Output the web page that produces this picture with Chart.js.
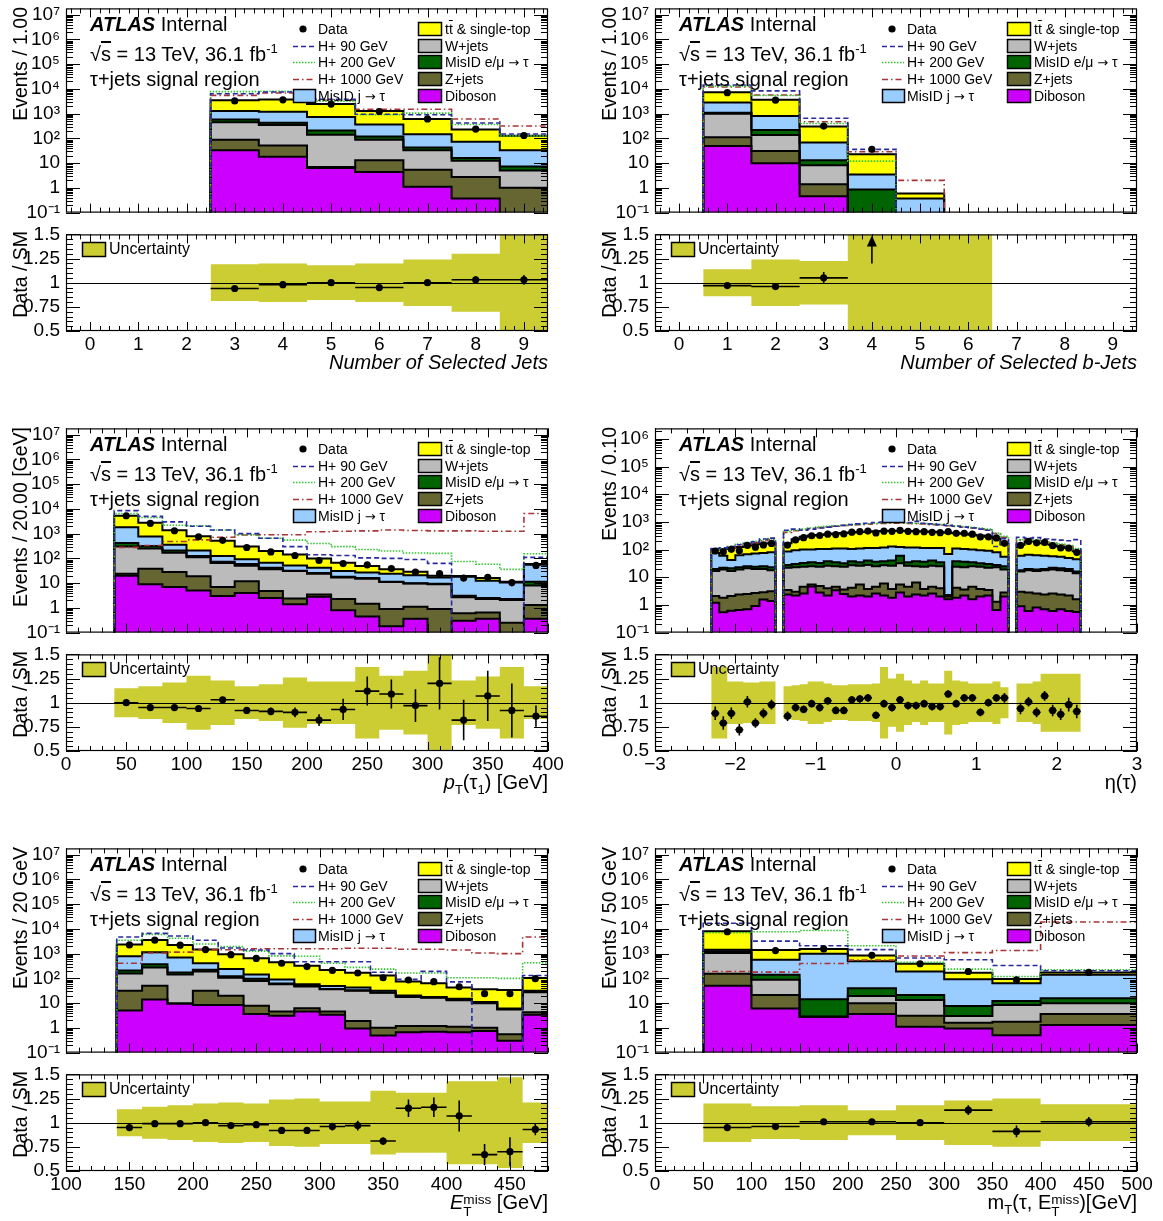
<!DOCTYPE html>
<html><head><meta charset="utf-8"><title>H+ tau+jets signal region distributions</title>
<script src="https://cdn.jsdelivr.net/npm/chart.js@4.4.1/dist/chart.umd.min.js"></script>
<style>
html,body{margin:0;padding:0;background:#fff;}
body{position:relative;width:1163px;height:1221px;overflow:hidden;font-family:'Liberation Sans',Arial,Helvetica,sans-serif;color:#000;}
canvas{position:absolute;}
.t{position:absolute;white-space:nowrap;line-height:1;}
.ytitle{position:absolute;writing-mode:vertical-rl;transform:rotate(180deg);white-space:nowrap;font-size:19.5px;line-height:20px;}
.xtitle{position:absolute;white-space:nowrap;font-size:20px;line-height:20px;text-align:right;}
.leg{position:absolute;white-space:nowrap;font-size:14px;line-height:14px;}
.arr{font-family:'DejaVu Sans',sans-serif;font-size:13px;}
.ss{display:inline-block;vertical-align:-0.5em;line-height:0.85;font-size:0.68em;text-align:left;}
.ss span{display:block;}
svg{position:absolute;overflow:visible;}
</style></head><body>
<script>
// ---------------- DATA ----------------
const PROCESSES = ['Diboson','Z+jets','W+jets','MisID e/\u03bc \u2192 \u03c4','MisID j \u2192 \u03c4','tt\u0304 & single-top'];
const SIGNALS = ['H+ 90 GeV','H+ 200 GeV','H+ 1000 GeV'];

// Number of selected jets
const njEdges = [2.5,3.5,4.5,5.5,6.5,7.5,8.5,9.5];
const njTicks = [0,1,2,3,4,5,6,7,8,9];
const njDiboson = [33,18,6.3,4.4,1.1,0.37,0];
const njZjets = [56,34,0.7,8.6,4.3,2.4,1.0];
const njWjets = [361,293,133,76,28,9.7,4.0];
const njMisIDem = [125,80,70,31,9,3.5,2.3];
const njMisIDj = [715,775,520,246,106,58,26];
const njTtbar = [2180,2500,1720,924,462,156,94];
const njData = [3260,3630,2450,1225,610,237,131];
const njH90 = [6400,7500,3800,950,900,420,150];
const njH200 = [7800,8100,3200,900,1050,365,127];
const njH1000 = [5500,6800,3500,1500,1500,610,315];
const njRatio = [0.94,0.98,1.00,0.95,1.00,1.03,1.03];
const njRatioErr = [0.01,0.01,0.01,0.015,0.02,0.04,0.05];
const njBand = [0.19,0.20,0.18,0.20,0.24,0.30,0.60];

// Number of selected b-jets
const nbEdges = [0.5,1.5,2.5,3.5,4.5,5.5,6.5];
const nbTicks = [0,1,2,3,4,5,6,7,8,9];
const nbDiboson = [49,10,0.46,0,0,0];
const nbZjets = [61,21,0.94,0,0,0];
const nbWjets = [870,106,6.9,0,0,0];
const nbMisIDem = [120,80,4.7,0.85,0,0];
const nbMisIDj = [1700,583,56,2.65,0.37,0];
const nbTtbar = [4500,2850,231,19.5,0.22,0];
const nbData = [7080,3500,315,36,null,null];
const nbH90 = [14500,8300,650,36,0,0];
const nbH200 = [13000,5400,400,12,0,0];
const nbH1000 = [12000,5700,470,29,2.0,0];
const nbRatio = [0.97,0.96,1.05,1.56,null,null];
const nbRatioErr = [0.02,0.015,0.06,0.36,null,null];
const nbBand = [0.14,0.24,0.225,0.60,0.60,0.60];

// pT(tau1)
const ptEdges = [40,60,80,100,120,140,160,180,200,220,240,260,280,300,320,340,360,380,400];
const ptTicks = [0,50,100,150,200,250,300,350,400];
const ptDiboson = [20,9,7,5,3,4,2.5,1.4,2.8,0.8,0.45,0.18,0.36,0,0.3,0.36,0,0.36];
const ptZjets = [4,29,21,14,4,8,2.3,1.0,0.7,1.5,1.0,0.72,0.74,0.9,0.3,0.29,0.25,0.94];
const ptWjets = [276,212,142,91,58,38,32,28.6,20.5,14.7,13.5,10.1,8.6,8.1,2.1,1.65,1.85,6.7];
const ptMisIDem = [120,70,40,15,8,10,5,1,1.5,1,1,0.5,0.3,0.5,0.4,0.2,0.2,3.5];
const ptMisIDj = [1380,440,150,85,52,32,25,20,16.5,13,11,12.5,11,7.5,14.9,10,8.2,43.5];
const ptTtbar = [3500,1990,1020,580,395,208,133,93,58,36,22,12,8,3,1.5,3.5,1,5];
const ptData = [5300,2610,1310,743,536,276,182,131,82,62,55,39,28,24,16,17,10.6,52];
const ptH90 = [8500,5000,3000,2000,1400,1000,650,300,140,130,105,100,90,63,0,0,0,110];
const ptH200 = [6500,4500,2200,2100,1400,900,650,550,400,300,230,200,165,160,75,58,36,155];
const ptH1000 = [280,330,480,560,720,880,900,900,1200,1250,1300,1400,1350,1300,1300,1250,1250,6500];
const ptRatio = [1.00,0.95,0.95,0.94,1.03,0.92,0.91,0.90,0.82,0.93,1.12,1.09,0.97,1.20,0.82,1.07,0.92,0.86];
const ptRatioErr = [0.01,0.01,0.015,0.02,0.03,0.03,0.04,0.05,0.06,0.11,0.15,0.15,0.17,0.27,0.21,0.26,0.28,0.11];
const ptBand = [0.15,0.17,0.21,0.28,0.23,0.17,0.19,0.26,0.22,0.22,0.37,0.28,0.33,0.50,0.23,0.27,0.37,0.17];

// eta(tau)
const etaEdges = [-2.3,-2.2,-2.1,-2.0,-1.9,-1.8,-1.7,-1.6,-1.5,-1.4,-1.3,-1.2,-1.1,-1.0,-0.9,-0.8,-0.7,-0.6,-0.5,-0.4,-0.3,-0.2,-0.1,0,0.1,0.2,0.3,0.4,0.5,0.6,0.7,0.8,0.9,1.0,1.1,1.2,1.3,1.4,1.5,1.6,1.7,1.8,1.9,2.0,2.1,2.2,2.3];
const etaTicks = [-3,-2,-1,0,1,2,3];
const etaDiboson = [1.2,0.54,0.62,0.65,0.7,0.92,1.58,1.38, 0, 2.4,2.2,2.6,4.6,2.8,2.2,3.4,2.5,2.0,2.2,2.0,2.6,2.2,1.8,2.8,2.0,2.4,2.2,2.6,2.0,1.6,1.8,2.2,1.6,2.0,2.2,0.65,2.0, 0, 0.9,0.6,0.8,0.7,0.6,0.7,0.6,0.55];
const etaZjets = [0.9,1.26,1.48,1.75,1.8,1.78,1.32,1.72, 0, 1.1,0.8,1.9,0.9,2.0,1.8,1.1,1.1,2.2,3.3,1.8,1.9,3.8,2.0,2.7,2.5,4.1,1.6,1.9,2.0,0.4,2.4,1.4,2.9,1.8,1.3,0.65,0.8, 0, 2.1,2.2,1.8,1.7,2.0,1.7,1.6,1.05];
const etaWjets = [14.9,17.2,14.9,16.6,18.5,17.3,17.1,14.9, 0, 18.5,20,19.5,19.5,19.2,22,20.5,20.4,22.8,20.5,24.2,20.5,21,22.2,26.5,21.5,18.5,20.2,21.5,21,0.15,19.8,19.4,20.5,20.2,18.5,21.7,16.2, 0, 13,15.2,14.4,15.6,16.4,15.6,14.8,12.4];
const etaMisIDem = [3,3,4,4,4,4,5,5, 0, 6,7,9,10,9,12,10,8,11,9,12,11,11,14,28,9,13,12,14,10,0.15,14,13,10,8,8,5,6, 0, 2,2,2,2,3,3,3,2];
const etaMisIDj = [55,38,21,39,43,48,51,57, 0, 57,65,67,65,72,67,75,78,67,75,75,79,82,90,65,85,82,79,75,80,67.7,72,69,65,63,60,52,30, 0, 42,45,43,40,36,34,30,29];
const etaTtbar = [25,45,73,63,72,83,89,90, 0, 85,140,190,220,235,250,270,290,310,320,330,345,350,350,355,350,340,335,325,310,340,280,265,245,225,200,170,105, 0, 90,130,133,110,92,75,65,43];
const etaData = [89,83,102,90,141,122,147,167, null, 146,223,270,317,323,362,350,368,427,447,467,400,465,456,494,456,446,446,422,408,447,386,389,362,288,290,263,168, null, 141,197,176,182,138,114,113,80];
const etaH90 = [110,115,130,150,170,190,240,260, 0, 500,550,500,550,600,650,700,750,800,850,900,950,1000,1050,1000,950,1050,900,850,800,750,700,650,600,550,500,130,250, 0, 280,260,270,240,230,220,210,230];
const etaH200 = [100,110,130,160,180,200,230,250, 0, 450,500,550,600,650,700,720,760,800,830,860,900,920,950,950,920,900,880,850,800,760,720,680,640,600,550,400,300, 0, 230,240,220,200,180,160,140,110];
const etaH1000 = [95,100,115,140,160,180,210,230, 0, 420,480,530,580,620,660,700,740,770,800,830,860,880,900,900,880,860,840,800,770,730,690,650,610,570,520,380,280, 0, 220,230,210,190,170,150,130,100];
const etaRatio = [0.89,0.79,0.89,0.72,1.01,0.79,0.89,0.98, null, 0.86,0.95,0.93,0.99,0.95,1.02,0.92,0.92,1.03,1.04,1.05,0.87,0.99,0.95,1.03,0.97,0.97,0.99,0.96,0.96,1.09,0.99,1.05,1.05,0.90,1.00,1.05,1.05, null, 0.94,1.01,0.90,1.07,0.92,0.88,0.98,0.91];
const etaRatioErr = [0.07,0.07,0.06,0.06,0.06,0.05,0.05,0.05, null, 0.05,0.04,0.04,0.04,0.04,0.04,0.04,0.04,0.04,0.04,0.04,0.04,0.04,0.04,0.04,0.04,0.04,0.04,0.04,0.04,0.04,0.04,0.04,0.04,0.04,0.04,0.04,0.05, null, 0.06,0.05,0.05,0.05,0.06,0.06,0.07,0.07];
const etaBand = [0.37,0.37,0.22,0.22,0.21,0.21,0.22,0.22, 0, 0.17,0.18,0.19,0.22,0.22,0.20,0.18,0.18,0.19,0.19,0.19,0.20,0.37,0.25,0.30,0.23,0.20,0.23,0.20,0.20,0.33,0.23,0.22,0.20,0.20,0.20,0.22,0.16, 0, 0.20,0.20,0.22,0.30,0.30,0.30,0.30,0.30];

// E_T^miss
const metEdges = [140,160,180,200,220,240,260,280,300,320,340,360,380,400,420,440,460,480];
const metTicks = [100,150,200,250,300,350,400,450];
const metDiboson = [5.0,14,9.7,8.4,8.4,3.6,3.1,4.6,3.4,0.94,0.49,0.66,0.7,0.66,0.75,0.3,3.4];
const metZjets = [27,36,0,23.6,11.6,4.3,1.5,1.6,1.2,0.96,0.51,0.54,0.5,0.44,0.25,0.25,0.9];
const metWjets = [125,225,133,158,86,71,53,41,32,30,25,16.4,15.4,11.9,9,4.95,23];
const metMisIDem = [53,95,32,35,17,18,4,3,1,1,1,1.1,0.6,1.3,0.5,0.3,2.5];
const metMisIDj = [580,780,525,185,114,46,29,8,12,10,5,1.8,0.4,0.7,0.5,0.2,2];
const metTtbar = [1580,2390,1520,1050,703,507,354,268,169,127,99,54.5,46.4,28,25,28,72];
const metData = [2250,3500,2200,1460,910,640,410,300,210,165,106,86,74,46,24,24,97];
const metH90 = [4700,6600,5200,3500,1700,1400,1000,470,470,470,177,91,192,72,0,0,130];
const metH200 = [3500,6000,4200,2450,1930,1260,810,790,410,280,237,165,165,106,106,100,430];
const metH1000 = [410,1060,1150,1460,1430,1580,1580,1580,1580,1650,1650,1500,1500,1400,1060,1000,4700];
const metRatio = [0.95,0.99,0.99,1.00,0.97,0.98,0.92,0.92,0.96,0.97,0.81,1.15,1.16,1.07,0.67,0.70,0.93];
const metRatioErr = [0.01,0.01,0.01,0.01,0.015,0.02,0.025,0.03,0.04,0.05,0.04,0.09,0.10,0.16,0.11,0.15,0.06];
const metBand = [0.14,0.165,0.18,0.20,0.21,0.20,0.24,0.25,0.22,0.22,0.33,0.31,0.31,0.43,0.43,0.47,0.21];

// mT(tau, ETmiss)
const mtEdges = [50,100,150,200,250,300,350,400,500];
const mtTicks = [0,50,100,150,200,250,300,350,400,450,500];
const mtDiboson = [50,6.1,2.8,3.6,1.1,0.94,0.5,1.3];
const mtZjets = [105,15.4,0,6.2,2.0,0.66,1.25,2.3];
const mtWjets = [915,66.5,0,9.7,10.3,1.4,6.65,6.2];
const mtMisIDem = [180,52,11.5,20.5,8.1,4.6,3.8,5.9];
const mtMisIDj = [200,430,986,450,168,85,52,124];
const mtTtbar = [6650,820,530,360,200,75,31,33];
const mtData = [7700,1330,1550,860,390,190,87,175];
const mtH90 = [17000,3200,2100,1450,670,570,330,205];
const mtH200 = [7000,7700,8600,2100,445,237,120,225];
const mtH1000 = [190,180,400,550,800,1100,1350,19000];
const mtRatio = [0.95,0.96,1.01,1.01,1.00,1.13,0.91,1.01];
const mtRatioErr = [0.01,0.02,0.02,0.02,0.03,0.05,0.06,0.05];
const mtBand = [0.20,0.17,0.18,0.13,0.18,0.23,0.25,0.19];

// ---------------- STYLE ----------------
const FILLS = ['#cc00ff','#666633','#bbbbbb','#006400','#99ccff','#ffff00'];
const SIGSTYLE = [
  {color:'#2a2aa0', dash:[5,3]},
  {color:'#2fc62f', dash:[1.5,1.5]},
  {color:'#aa3333', dash:[6,3,1.5,3]}
];
const BANDCOLOR = '#cccc33';
const LOG_FLOOR = 1e-5; // empty bins are drawn below the visible axis range

const PANELS = [
  {col:0,row:0, edges:njEdges, comps:[njDiboson,njZjets,njWjets,njMisIDem,njMisIDj,njTtbar], sig:[njH90,njH200,njH1000], data:njData, ratio:njRatio, rerr:njRatioErr, band:njBand, xmin:-0.5, xmax:9.5, xticks:njTicks, xminor:0.2, ymax:1.8e7, ytitle:'Events / 1.00', xtitle:'<i>Number of Selected Jets</i>'},
  {col:1,row:0, edges:nbEdges, comps:[nbDiboson,nbZjets,nbWjets,nbMisIDem,nbMisIDj,nbTtbar], sig:[nbH90,nbH200,nbH1000], data:nbData, ratio:nbRatio, rerr:nbRatioErr, band:nbBand, xmin:-0.5, xmax:9.5, xticks:nbTicks, xminor:0.2, ymax:1.8e7, ytitle:'Events / 1.00', xtitle:'<i>Number of Selected b-Jets</i>'},
  {col:0,row:1, edges:ptEdges, comps:[ptDiboson,ptZjets,ptWjets,ptMisIDem,ptMisIDj,ptTtbar], sig:[ptH90,ptH200,ptH1000], data:ptData, ratio:ptRatio, rerr:ptRatioErr, band:ptBand, xmin:0, xmax:400, xticks:ptTicks, xminor:10, ymax:1.8e7, ytitle:'Events / 20.00 [GeV]', xtitle:'<i>p</i><sub style="font-size:13px">T</sub>(\u03c4<sub style="font-size:13px">1</sub>) [GeV]'},
  {col:1,row:1, edges:etaEdges, comps:[etaDiboson,etaZjets,etaWjets,etaMisIDem,etaMisIDj,etaTtbar], sig:[etaH90,etaH200,etaH1000], data:etaData, ratio:etaRatio, rerr:etaRatioErr, band:etaBand, xmin:-3, xmax:3, xticks:etaTicks, xminor:0.2, ymax:2.4e6, ytitle:'Events / 0.10', xtitle:'\u03b7(\u03c4)'},
  {col:0,row:2, edges:metEdges, comps:[metDiboson,metZjets,metWjets,metMisIDem,metMisIDj,metTtbar], sig:[metH90,metH200,metH1000], data:metData, ratio:metRatio, rerr:metRatioErr, band:metBand, xmin:100, xmax:480, xticks:metTicks, xminor:10, ymax:1.8e7, ytitle:'Events / 20 GeV', xtitle:'<i>E</i><span class="ss"><span>miss</span><span>T</span></span> [GeV]'},
  {col:1,row:2, edges:mtEdges, comps:[mtDiboson,mtZjets,mtWjets,mtMisIDem,mtMisIDj,mtTtbar], sig:[mtH90,mtH200,mtH1000], data:mtData, ratio:mtRatio, rerr:mtRatioErr, band:mtBand, xmin:0, xmax:500, xticks:mtTicks, xminor:10, ymax:1.8e7, ytitle:'Events / 50 GeV', xtitle:'m<sub style="font-size:13px">T</sub>(\u03c4, E<span class="ss"><span>miss</span><span>T</span></span>)[GeV]'}
];

// ---------------- HELPERS ----------------
Chart.defaults.font.family = "'Liberation Sans', Arial, Helvetica, sans-serif";
Chart.defaults.color = '#000';

const COLX = [0, 589];
const ROWY = [0, 420, 840];
const YAXW = 66, PADR = 20, FRAMEW = 482;
const CW = YAXW + FRAMEW + PADR;

function histPoints(edges, vals, floor){
  const n = vals.length;
  const f = v => (floor && !(v > 0)) ? floor : v;
  const pts = [{x:edges[0], y:f(0)}];
  for (let i=0;i<n;i++) pts.push({x:edges[i], y:f(vals[i])});
  pts.push({x:edges[n], y:f(vals[n-1])});
  pts.push({x:edges[n], y:f(0)});
  return pts;
}
function bandPoints(edges, vals){
  const n = vals.length;
  const pts = [];
  for (let i=0;i<n;i++) pts.push({x:edges[i], y:vals[i]});
  pts.push({x:edges[n], y:vals[n-1]});
  return pts;
}
function cumulative(comps){
  const out = []; let run = comps[0].map(()=>0);
  comps.forEach(c=>{ run = run.map((v,i)=>v + (c[i]||0)); out.push(run.slice()); });
  return out;
}
function centeredPoints(edges, vals, errs){
  const out = [];
  vals.forEach((v,i)=>{ if (v==null) return; out.push({x:(edges[i]+edges[i+1])/2, y:v, e:errs?errs[i]:null, h:(edges[i+1]-edges[i])/2}); });
  return out;
}
function linTicks(min, max, step){
  const out=[]; const n0=Math.ceil(min/step-1e-9), n1=Math.floor(max/step+1e-9);
  for (let n=n0;n<=n1;n++) out.push(+(n*step).toFixed(6));
  return out;
}
const SUP = {'-':'\u207b','0':'\u2070','1':'\u00b9','2':'\u00b2','3':'\u00b3','4':'\u2074','5':'\u2075','6':'\u2076','7':'\u2077','8':'\u2078','9':'\u2079'};
function logLabel(v){
  const e = Math.round(Math.log10(v));
  if (e===0) return '1'; if (e===1) return '10';
  return '10' + String(e).split('').map(c=>SUP[c]).join('');
}
function numLabel(v){ return v<0 ? '\u2212'+Math.abs(v) : String(v); }

function framePlugin(cfg){
  return { id:'rootFrame', afterDraw(chart){
    const {ctx, chartArea:a} = chart; const xs = chart.scales.x, ys = chart.scales.y;
    ctx.save(); ctx.strokeStyle='#000'; ctx.lineWidth=1; ctx.beginPath();
    const vt=(v,len)=>{ const X=Math.round(xs.getPixelForValue(v))+0.5; ctx.moveTo(X,a.bottom); ctx.lineTo(X,a.bottom-len); ctx.moveTo(X,a.top); ctx.lineTo(X,a.top+len); };
    const ht=(v,len)=>{ const Y=Math.round(ys.getPixelForValue(v))+0.5; ctx.moveTo(a.left,Y); ctx.lineTo(a.left+len,Y); ctx.moveTo(a.right,Y); ctx.lineTo(a.right-len,Y); };
    cfg.xMajor.forEach(v=>vt(v,cfg.xLen[0])); cfg.xMinor.forEach(v=>vt(v,cfg.xLen[1]));
    cfg.yMajor.forEach(v=>ht(v,cfg.yLen[0])); cfg.yMinor.forEach(v=>ht(v,cfg.yLen[1]));
    ctx.stroke();
    ctx.lineWidth=1.2; ctx.strokeRect(a.left+0.5, a.top+0.5, a.right-a.left-1, a.bottom-a.top-1);
    ctx.restore();
  }};
}
function errPlugin(unity){
  return { id:'errbars', afterDatasetsDraw(chart){
    const {ctx, chartArea:a} = chart; const xs = chart.scales.x, ys = chart.scales.y;
    ctx.save(); ctx.beginPath(); ctx.rect(a.left, a.top, a.right-a.left, a.bottom-a.top); ctx.clip();
    ctx.strokeStyle='#000'; ctx.fillStyle='#000';
    if (unity){ ctx.lineWidth=1; ctx.beginPath(); const Y=Math.round(ys.getPixelForValue(1))+0.5; ctx.moveTo(a.left,Y); ctx.lineTo(a.right,Y); ctx.stroke(); }
    chart.data.datasets.forEach(ds=>{
      if (!ds.errMode) return;
      ctx.lineWidth=1.6; ctx.beginPath();
      const heads=[];
      ds.data.forEach(p=>{
        const X = xs.getPixelForValue(p.x);
        if (ds.errMode==='ratio'){
          if (p.y > ys.max){ ctx.moveTo(X, ys.getPixelForValue(p.y-p.e)); ctx.lineTo(X, a.top+10); heads.push(X); return; }
          ctx.moveTo(X, ys.getPixelForValue(p.y+p.e)); ctx.lineTo(X, ys.getPixelForValue(p.y-p.e));
          const Y = ys.getPixelForValue(p.y);
          ctx.moveTo(xs.getPixelForValue(p.x-p.h), Y); ctx.lineTo(xs.getPixelForValue(p.x+p.h), Y);
        } else {
          const e = Math.sqrt(p.y);
          ctx.moveTo(X, ys.getPixelForValue(p.y+e)); ctx.lineTo(X, ys.getPixelForValue(Math.max(p.y-e,LOG_FLOOR)));
        }
      });
      ctx.stroke();
      heads.forEach(X=>{ ctx.beginPath(); ctx.moveTo(X, a.top+1); ctx.lineTo(X-5, a.top+12); ctx.lineTo(X+5, a.top+12); ctx.closePath(); ctx.fill(); });
    });
    ctx.restore();
  }};
}
function mkCanvas(left, top, w, h){
  const c=document.createElement('canvas'); c.width=w; c.height=h;
  c.style.left=left+'px'; c.style.top=top+'px'; c.style.width=w+'px'; c.style.height=h+'px';
  document.body.appendChild(c); return c;
}
const baseOpts = {responsive:false, devicePixelRatio:1, animation:false, events:[]};
const basePlugins = {legend:{display:false}, tooltip:{enabled:false}, filler:{propagate:false, drawTime:'beforeDatasetsDraw'}};

function buildMain(p){
  const x0 = COLX[p.col], y0 = ROWY[p.row];
  const cv = mkCanvas(x0, y0-9, CW, 239);
  const cum = cumulative(p.comps);
  const datasets = [];
  cum.forEach((c,k)=>datasets.push({label:PROCESSES[k], data:histPoints(p.edges,c,LOG_FLOOR), stepped:true, fill:k===0?'start':'-1', backgroundColor:FILLS[k], borderColor:'#000', borderWidth:2, pointRadius:0, order:10}));
  p.sig.forEach((s,k)=>datasets.push({label:SIGNALS[k], data:histPoints(p.edges,s,LOG_FLOOR), stepped:true, fill:false, borderColor:SIGSTYLE[k].color, borderDash:SIGSTYLE[k].dash, borderWidth:1.6, pointRadius:0, order:5}));
  datasets.push({label:'Data', data:centeredPoints(p.edges,p.data,null), showLine:false, pointRadius:3.6, pointBackgroundColor:'#000', pointBorderWidth:0, order:1, errMode:'poisson'});
  const decades=[]; for (let v=0.1; v<=p.ymax*1.0001; v*=10) decades.push(+v.toPrecision(3));
  const minors=[]; decades.forEach(d=>{ for(let k=2;k<=9;k++){ const v=d*k; if (v<p.ymax) minors.push(v);} });
  new Chart(cv, {type:'line', data:{datasets}, options:{...baseOpts,
    layout:{padding:{top:14,bottom:14,left:0,right:PADR}},
    plugins:basePlugins,
    scales:{
      x:{type:'linear', min:p.xmin, max:p.xmax, display:false},
      y:{type:'logarithmic', min:0.1, max:p.ymax,
         afterFit:s=>{s.width=YAXW;},
         afterBuildTicks:s=>{s.ticks=decades.map(v=>({value:v}));},
         ticks:{callback:v=>logLabel(v), font:{size:19}, color:'#000', padding:6, autoSkip:false},
         grid:{display:false, drawTicks:false}, border:{display:false}}
    }},
    plugins:[framePlugin({xMajor:p.xticks, xMinor:linTicks(p.xmin,p.xmax,p.xminor), xLen:[9,5], yMajor:decades, yMinor:minors, yLen:[14,7]}), errPlugin(false)]
  });
}
function buildRatio(p){
  const x0 = COLX[p.col], y0 = ROWY[p.row];
  const cv = mkCanvas(x0, y0+217, CW, 144);
  const hi = p.band.map(b=>1+b), lo = p.band.map(b=>1-b);
  const datasets = [
    {label:'Uncertainty low', data:bandPoints(p.edges,lo), stepped:true, fill:false, borderWidth:0, pointRadius:0, order:10},
    {label:'Uncertainty', data:bandPoints(p.edges,hi), stepped:true, fill:'-1', backgroundColor:BANDCOLOR, borderWidth:0, pointRadius:0, order:10},
    {label:'Data / SM', data:centeredPoints(p.edges,p.ratio,p.rerr), showLine:false, pointRadius:3.6, pointBackgroundColor:'#000', pointBorderWidth:0, order:1, errMode:'ratio'}
  ];
  const ymaj=[0.5,0.75,1,1.25,1.5];
  new Chart(cv, {type:'line', data:{datasets}, options:{...baseOpts,
    layout:{padding:{top:14,bottom:4,left:0,right:PADR}},
    plugins:basePlugins,
    scales:{
      x:{type:'linear', min:p.xmin, max:p.xmax,
         afterFit:s=>{s.height=26;},
         afterBuildTicks:s=>{s.ticks=p.xticks.map(v=>({value:v}));},
         ticks:{callback:v=>numLabel(v), font:{size:19}, color:'#000', padding:2, autoSkip:false, maxRotation:0},
         grid:{display:false, drawTicks:false}, border:{display:false}},
      y:{type:'linear', min:0.5, max:1.5,
         afterFit:s=>{s.width=YAXW;},
         afterBuildTicks:s=>{s.ticks=ymaj.map(v=>({value:v}));},
         ticks:{callback:v=>String(v), font:{size:19}, color:'#000', padding:6, autoSkip:false},
         grid:{display:false, drawTicks:false}, border:{display:false}}
    }},
    plugins:[framePlugin({xMajor:p.xticks, xMinor:linTicks(p.xmin,p.xmax,p.xminor), xLen:[9,5], yMajor:ymaj, yMinor:linTicks(0.5,1.5,0.05), yLen:[14,7]}), errPlugin(true)]
  });
}

function addDiv(cls, html, css){
  const d=document.createElement('div'); d.className=cls; d.style.cssText=css; d.innerHTML=html; document.body.appendChild(d); return d;
}
const SVGNS='http://www.w3.org/2000/svg';
function svgEl(tag, attrs, parent){ const e=document.createElementNS(SVGNS,tag); for(const k in attrs) e.setAttribute(k,attrs[k]); if(parent) parent.appendChild(e); return e; }

function annotate(p){
  const ox = COLX[p.col], oy = ROWY[p.row];
  addDiv('ytitle', p.ytitle, `left:${ox+10}px;top:${oy+7}px;`);
  addDiv('ytitle', 'Data / SM', `left:${ox+10}px;top:${oy+231}px;`);
  addDiv('xtitle', p.xtitle, `right:${1163-(ox+YAXW+FRAMEW)}px;top:${oy+352}px;`);
  addDiv('t', '<b><i>ATLAS</i></b> Internal', `left:${ox+90}px;top:${oy+14}px;font-size:20px;`);
  addDiv('t', '\u221a<span style="text-decoration:overline">s</span> = 13 TeV, 36.1 fb<sup style="font-size:13px">-1</sup>', `left:${ox+90}px;top:${oy+42}px;font-size:20px;`);
  addDiv('t', '\u03c4+jets signal region', `left:${ox+90}px;top:${oy+69}px;font-size:20px;`);
  const svg = svgEl('svg', {width:470, height:270});
  svg.style.left = ox+'px'; svg.style.top = oy+'px';
  document.body.appendChild(svg);
  const rows=[29,46,62,79,96];
  svgEl('circle',{cx:303, cy:rows[0], r:3.6, fill:'#000'}, svg);
  SIGSTYLE.forEach((s,k)=>svgEl('line',{x1:293, x2:315, y1:rows[k+1]+0.5, y2:rows[k+1]+0.5, stroke:s.color, 'stroke-width':1.6, 'stroke-dasharray':s.dash.join(' ')}, svg));
  svgEl('rect',{x:293.5, y:rows[4]-6.5, width:22, height:13, fill:FILLS[4], stroke:'#000', 'stroke-width':1.5}, svg);
  const rightOrder=[5,2,3,1,0];
  rightOrder.forEach((k,i)=>svgEl('rect',{x:418.5, y:rows[i]-6.5, width:23, height:13, fill:FILLS[k], stroke:'#000', 'stroke-width':1.5}, svg));
  svgEl('rect',{x:82.5, y:242.5, width:23, height:14, fill:BANDCOLOR, stroke:'#000', 'stroke-width':1.5}, svg);
  const A = '<span class="arr">\u2192</span>';
  const leftTexts=['Data','H+ 90 GeV','H+ 200 GeV','H+ 1000 GeV','MisID j '+A+' \u03c4'];
  leftTexts.forEach((t,i)=>addDiv('leg', t, `left:${ox+318}px;top:${oy+rows[i]-7}px;`));
  const rightTexts=['t<span style="text-decoration:overline">t</span> &amp; single-top','W+jets','MisID e/\u03bc '+A+' \u03c4','Z+jets','Diboson'];
  rightTexts.forEach((t,i)=>addDiv('leg', t, `left:${ox+445}px;top:${oy+rows[i]-7}px;`));
  addDiv('t', 'Uncertainty', `left:${ox+109}px;top:${oy+241}px;font-size:16px;`);
}

PANELS.forEach(p=>{ buildMain(p); buildRatio(p); });
PANELS.forEach(p=>annotate(p));
</script>
</body></html>
